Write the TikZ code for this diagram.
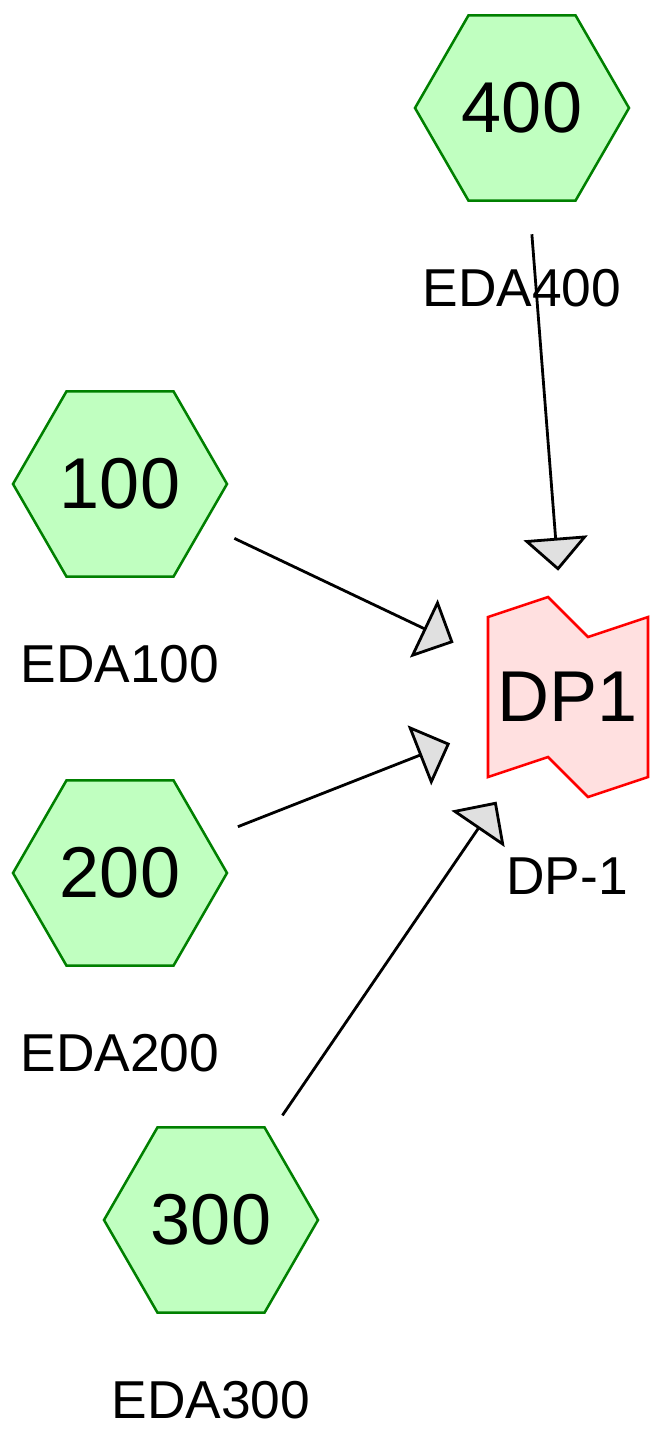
\documentclass[tikz,border=0pt]{standalone}
\usepackage{fontspec}
\setmainfont{Liberation Sans}
\usepackage{tikz}
\usetikzlibrary{shapes.geometric,arrows.meta}
\usepackage{xcolor}
\definecolor{hexfill}{RGB}{192,255,192}
\definecolor{hexline}{RGB}{0,128,0}
\definecolor{dpfill}{RGB}{255,224,224}
\definecolor{tipgray}{RGB}{224,224,224}

\begin{document}
\begin{tikzpicture}[x=0.75pt, y=-0.75pt,
    hexnode/.style={regular polygon, regular polygon sides=6, minimum size=160.5pt,
        inner sep=0pt, draw=hexline, fill=hexfill, line width=1.9pt,
        font=\fontsize{54}{60}\selectfont},
    lbl/.style={font=\fontsize{40}{46}\selectfont, inner sep=0pt},
    edge/.style={line width=2.1pt, shorten <=95pt, shorten >=95pt,
        -{Triangle[length=24.75pt, width=48pt, fill=tipgray]}}]
    \useasboundingbox (0,0) rectangle (654,1437);

    % sources
    \node[hexnode] (h400) at (522,108) {400};
    \node[hexnode] (h100) at (120,484) {100};
    \node[hexnode] (h200) at (120,873) {200};
    \node[hexnode] (h300) at (211,1220) {300};
    \node[lbl] (l400) at (522,288) {EDA400};
    \node[lbl] (l100) at (120,664) {EDA100};
    \node[lbl] (l200) at (120,1053) {EDA200};
    \node[lbl] (l300) at (211,1400) {EDA300};

    % target
    \draw[red, fill=dpfill, line width=1.9pt] (568,697) ++(-80,-80) -- ++(60,-20) -- ++(40,40)
        -- ++(60,-20) -- ++(0,160) -- ++(-60,20) -- ++(-40,-40) -- ++(-60,20) -- cycle;
    \node[font=\fontsize{54}{60}\selectfont, inner sep=0pt] (dp1) at (568,697) {DP1};
    \node[lbl] (ldp1) at (567,876) {DP-1};

    % edges
    \draw[edge] (h400.center) -- (dp1.center);
    \draw[edge] (h100.center) -- (dp1.center);
    \draw[edge] (h200.center) -- (dp1.center);
    \draw[edge] (h300.center) -- (dp1.center);
\end{tikzpicture}
\end{document}
